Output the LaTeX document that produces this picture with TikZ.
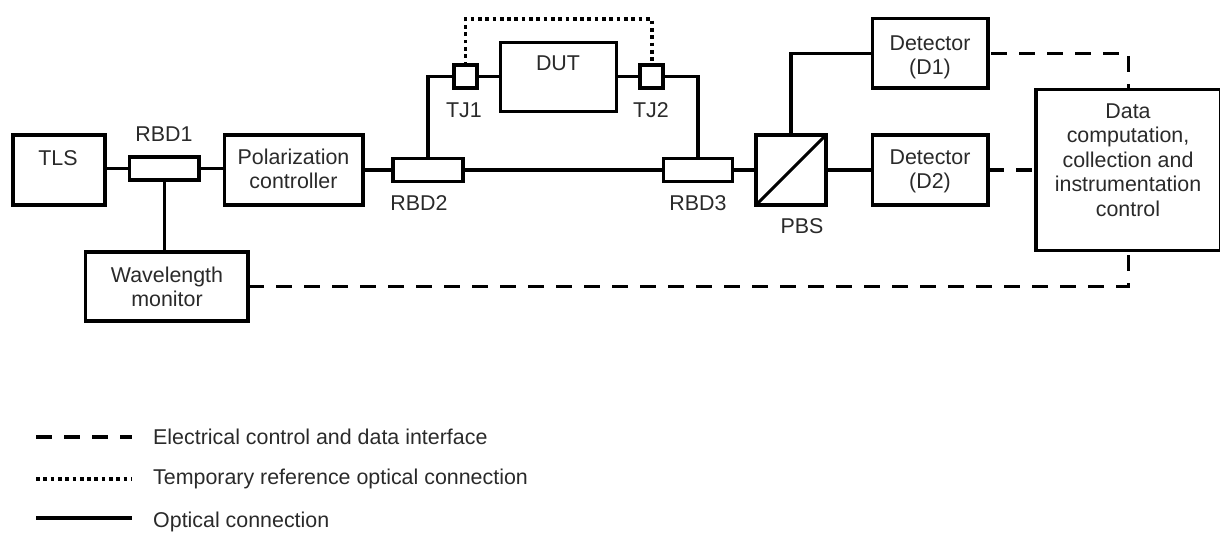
\documentclass[tikz,border=0pt]{standalone}
\usepackage{fontspec}
\setmainfont{Liberation Sans}
\definecolor{txt}{HTML}{2A2A2A}
\tikzset{
 x=1pt,y=-1pt,
 box/.style 2 args={draw=black,line width=3.7pt,fill=white,minimum width=#1,minimum height=#2,inner sep=0pt,outer sep=0pt},
 wire/.style={draw=black,line width=3.4pt},
 elec/.style={draw=black,line width=3.6pt,dash pattern=on 16pt off 12pt},
 temp/.style={draw=black,line width=3.8pt,dash pattern=on 3.7pt off 3.6pt},
 lbl/.style={text=txt,font=\fontsize{21.4}{24.4}\selectfont,align=center,inner sep=0pt},
}
\begin{document}
\begin{tikzpicture}
\useasboundingbox (0,0) rectangle (1220,539);
\coordinate (la) at (36,437);\coordinate (lb) at (132,437);
\coordinate (lc) at (36,479);\coordinate (ld) at (132,479);
\coordinate (le) at (36,518);\coordinate (lf) at (132,518);
\node[box={92pt}{69.5pt}] (tls) at (58.7,170) {};
\node[lbl] (tlst) at (58,158) {TLS};
\node[box={69.5pt}{23pt}] (rbdA) at (164.3,168.3) {};
\node[lbl] (rbdAt) at (164,134) {RBD1};
\node[box={138.5pt}{69.5pt}] (pol) at (293.8,170) {};
\node[lbl] (polt) at (293.5,169) {Polarization\\controller};
\node[box={162.7pt}{69pt}] (wav) at (166.7,286.3) {};
\node[lbl] (wavt) at (167,287) {Wavelength\\monitor};
\node[box={70pt}{23pt}] (rbdB) at (427.8,170) {};
\node[lbl] (rbdBt) at (419,203) {RBD2};
\node[box={69pt}{23pt}] (rbdC) at (698,170) {};
\node[lbl] (rbdCt) at (698,203) {RBD3};
\node[box={23pt}{23pt}] (tjA) at (465.5,76.7) {};
\node[lbl] (tjAt) at (464,110) {TJ1};
\node[box={23pt}{23pt}] (tjB) at (651.7,76.7) {};
\node[lbl] (tjBt) at (651,110) {TJ2};
\node[box={116pt}{69pt}] (dut) at (558.5,77) {};
\node[lbl] (dutt) at (558,63) {DUT};
\node[box={69.8pt}{69.8pt}] (pbs) at (791,170) {};
\node[lbl] (pbst) at (802,226) {PBS};
\node[box={115.7pt}{69.5pt}] (dA) at (930.3,53.3) {};
\node[lbl] (dAt) at (930,57.5) {Detector\\(D1)};
\node[box={115.7pt}{69.5pt}] (dB) at (930.3,170) {};
\node[lbl] (dBt) at (930,171.5) {Detector\\(D2)};
\node[box={185pt}{161pt}] (dat) at (1128.5,170) {};
\node[lbl] (datt) at (1128,160) {Data\\computation,\\collection and\\instrumentation\\control};
\draw[wire,line width=3pt] (pbs.south west) -- (pbs.north east);
\draw[wire] (tls.east |- rbdA.west) -- (rbdA.west);
\draw[wire] (rbdA.east) -- (pol.west |- rbdA.east);
\draw[wire] (rbdA.south) -- (rbdA.south |- wav.north);
\draw[wire] (pol.east) -- (rbdB.west);
\draw[wire] (rbdB.east) -- (rbdC.west);
\draw[wire] (rbdC.east) -- (pbs.west);
\draw[wire] (rbdB.north) |- (tjA.west);
\draw[wire] (tjA.east) -- (dut.west |- tjA.east);
\draw[wire] (dut.east |- tjB.west) -- (tjB.west);
\draw[wire] (tjB.east) -| (rbdC.north);
\draw[wire] (pbs.north) |- (dA.west);
\draw[wire] (pbs.east) -- (dB.west);
\draw[temp] (tjA.north) -- ++(0,-46) -| (tjB.north);
\draw[elec,dash phase=25pt] (dA.east) -| (dat.north);
\draw[elec] (dB.east) -- (dat.west);
\draw[elec] (wav.east) -| (dat.south);
\draw[elec] (la) -- (lb);
\draw[temp] (lc) -- (ld);
\draw[wire] (le) -- (lf);
\node[lbl,anchor=west] (l1) at (153,437) {Electrical control and data interface};
\node[lbl,anchor=west] (l2) at (153,479) {Temporary reference optical connection};
\node[lbl,anchor=west] (l3) at (153,522) {Optical connection};
\end{tikzpicture}
\end{document}
